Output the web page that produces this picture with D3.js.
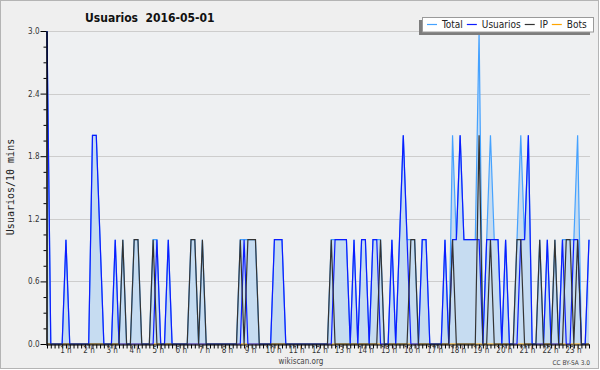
<!DOCTYPE html>
<html>
<head>
<meta charset="utf-8">
<script src="https://cdn.jsdelivr.net/npm/d3@7"></script>
<style>
	body { margin: 0; background: #ffffff; }
	text { font-family: "DejaVu Sans Condensed", "DejaVu Sans", sans-serif; font-stretch: condensed; }
</style>
</head>
<body>
<script>

// one value every 10 minutes, 00:00 -> 23:50
var usuarios = [
	3,0,0,0,0,1,0,0,0,0,0,0,
	2,2,1,0,0,0,1,0,0,0,0,0,
	0,0,0,0,0,1,0,0,1,0,0,0,
	0,0,0,0,0,0,0,0,0,0,0,0,
	0,0,0,0,1,0,0,0,0,0,0,0,
	1,1,1,0,0,0,0,0,0,0,0,0,
	0,0,0,0,1,1,1,1,0,1,0,1,
	1,0,1,1,0,0,0,1,0,1,2,1,
	0,0,0,1,1,0,0,0,0,1,0,1,
	1,2,1,1,1,1,1,0,1,1,1,1,
	0,1,0,0,0,1,1,2,0,0,0,0,
	1,0,0,0,1,0,0,1,1,0,0,1
]

var ip = [
	0,0,0,0,0,0,0,0,0,0,0,0,
	0,0,0,0,0,0,0,0,1,0,0,1,
	1,0,0,0,1,0,0,0,0,0,0,0,
	0,0,1,1,0,1,0,0,0,0,0,0,
	0,0,0,1,0,1,1,1,0,0,0,0,
	0,0,0,0,0,0,0,0,0,0,0,0,
	0,0,0,1,0,0,0,0,0,0,0,0,
	0,0,0,0,1,0,0,0,0,0,0,0,
	1,1,0,0,0,0,0,0,0,0,0,1,
	0,0,0,0,0,0,2,0,0,1,0,0,
	0,0,0,0,1,1,0,0,0,0,1,0,
	0,0,1,0,0,1,1,0,1,0,0,0
]

var total = [
	3,0,0,0,0,1,0,0,0,0,0,0,
	2,2,1,0,0,0,1,0,1,0,0,1,
	1,0,0,0,1,1,0,0,1,0,0,0,
	0,0,1,1,0,1,0,0,0,0,0,0,
	0,0,0,1,1,1,1,1,0,0,0,0,
	1,1,1,0,0,0,0,0,0,0,0,0,
	0,0,0,1,1,1,1,1,0,1,0,1,
	1,0,1,1,1,0,0,1,0,1,2,1,
	1,1,0,1,1,0,0,0,0,1,0,2,
	1,2,1,1,1,1,3,0,1,2,1,1,
	0,1,0,0,1,2,1,2,0,0,1,0,
	1,0,1,0,1,1,1,1,2,0,0,1
]

var bots = [
	0,0,0,0,0,0,0,0,0,0,0,0,
	0,0,0,0,0,0,0,0,0,0,0,0,
	0,0,0,0,0,0,0,0,0,0,0,0,
	0,0,0,0,0,0,0,0,0,0,0,0,
	0,0,0,0,0,0,0,0,0,0,0,0,
	0,0,0,0,0,0,0,0,0,0,0,0,
	0,0,0,0,0,0,0,0,0,0,0,0,
	0,0,0,0,0,0,0,0,0,0,0,0,
	0,0,0,0,0,0,0,0,0,0,0,0,
	0,0,0,0,0,0,0,0,0,0,0,0,
	0,0,0,0,0,0,0,0,0,0,0,0,
	0,0,0,0,0,0,0,0,0,0,0,0
]

var hour_labels = ["1 h","2 h","3 h","4 h","5 h","6 h","7 h","8 h","9 h","10 h","11 h","12 h",
	"13 h","14 h","15 h","16 h","17 h","18 h","19 h","20 h","21 h","22 h","23 h"]
var y_labels = [0, 0.6, 1.2, 1.8, 2.4, 3.0]
var y_minor = [0.15, 0.3, 0.45, 0.75, 0.9, 1.05, 1.35, 1.5, 1.65, 1.95, 2.1, 2.25, 2.55, 2.7, 2.85]

var series = [
	{name: "Total", values: total, color: "#45a2ff"},
	{name: "Usuarios", values: usuarios, color: "#0c1cff"},
	{name: "IP", values: ip, color: "#333333"},
	{name: "Bots", values: bots, color: "#ffa500"}
]

var canvas = d3.select("body")
	.append("svg")
	.attr("width", 600)
	.attr("height", 370)

canvas.append("rect")
	.attr("x", 0.5).attr("y", 0.5)
	.attr("width", 598).attr("height", 368)
	.attr("fill", "#efefef")
	.attr("stroke", "#b4b4b4")

var x = d3.scaleLinear().domain([0, 143]).range([47, 589])
var y = d3.scaleLinear().domain([0, 3]).range([344, 31])
// hour labels sit a bit wider apart than the 10 min points
var x_label = d3.scaleLinear().domain([0, 24]).range([42.9, 596.6])

canvas.append("rect")
	.attr("x", 47).attr("y", 31)
	.attr("width", 543).attr("height", 313)
	.attr("fill", "#eef0f2")

canvas.selectAll(".grid")
	.data(y_labels.slice(1))
	.enter().append("line")
	.attr("x1", 47).attr("x2", 590)
	.attr("y1", function(d){ return Math.round(y(d)) + 0.5 })
	.attr("y2", function(d){ return Math.round(y(d)) + 0.5 })
	.attr("stroke", "#cdcdcd")

var area = d3.area()
	.x(function(d, i){ return x(i) })
	.y0(y(0))
	.y1(function(d){ return y(d) })

var line = d3.line()
	.x(function(d, i){ return x(i) })
	.y(function(d){ return y(d) })

canvas.append("path")
	.attr("d", area(total))
	.attr("fill", "#c6dcf1")

// bots first so the axis hides it along 0
canvas.append("path").attr("d", line(bots)).attr("fill", "none").attr("stroke", series[3].color).attr("stroke-width", 1.2)
canvas.append("path").attr("d", line(total)).attr("fill", "none").attr("stroke", series[0].color).attr("stroke-width", 1.2)
canvas.append("path").attr("d", line(usuarios)).attr("fill", "none").attr("stroke", series[1].color).attr("stroke-width", 1.2)
canvas.append("path").attr("d", line(ip)).attr("fill", "none").attr("stroke", series[2].color).attr("stroke-width", 1.2)

// axes
var y_axis = canvas.append("g")
	.attr("transform", "translate(46.5,0)")
	.call(d3.axisLeft(y).tickValues(y_labels).tickSize(6).tickSizeOuter(0).tickPadding(1).tickFormat(d3.format(".1f")))
y_axis.selectAll("text").attr("font-size", 8).attr("fill", "#333").style("font-family", null)

canvas.append("g")
	.attr("transform", "translate(46.5,0)")
	.call(d3.axisLeft(y).tickValues(y_minor).tickSize(3).tickSizeOuter(0).tickFormat(""))

canvas.append("g")
	.attr("transform", "translate(0,344.5)")
	.call(d3.axisBottom(x).tickValues(d3.range(0, 144)).tickSize(4).tickSizeOuter(0).tickFormat(""))
	.select(".domain").attr("d", "M46,0.5H590")

canvas.selectAll("path.domain").attr("stroke", "#000")

canvas.selectAll(".hlabel")
	.data(hour_labels)
	.enter().append("text")
	.attr("x", function(d, i){ return x_label(i + 1) })
	.attr("y", 353)
	.attr("text-anchor", "middle")
	.attr("font-size", 8)
	.attr("fill", "#333")
	.text(function(d){ return d })

canvas.append("text")
	.attr("transform", "translate(14,187) rotate(-90)")
	.attr("text-anchor", "middle")
	.attr("font-size", 10)
	.attr("fill", "#222")
	.style("font-family", "'DejaVu Sans Mono', monospace")
	.text("Usuarios/10 mins")

canvas.append("text")
	.attr("x", 85).attr("y", 22)
	.attr("font-size", 12)
	.attr("font-weight", "bold")
	.attr("fill", "#111")
	.attr("xml:space", "preserve")
	.text("Usuarios  2016-05-01")

canvas.append("text")
	.attr("x", 301).attr("y", 364)
	.attr("text-anchor", "middle")
	.attr("font-size", 8)
	.attr("fill", "#444")
	.text("wikiscan.org")

canvas.append("text")
	.attr("x", 590).attr("y", 365)
	.attr("text-anchor", "end")
	.attr("font-size", 6.5)
	.attr("fill", "#444")
	.text("CC BY-SA 3.0")

// legend
canvas.append("rect")
	.attr("x", 419).attr("y", 20)
	.attr("width", 171).attr("height", 15)
	.attr("fill", "#7d7d7d")
canvas.append("rect")
	.attr("x", 422.5).attr("y", 17.5)
	.attr("width", 171).attr("height", 14.5)
	.attr("fill", "#ffffff")
	.attr("stroke", "#9a9a9a")

var leg_x = 427
series.forEach(function(s){
	canvas.append("line")
		.attr("x1", leg_x).attr("x2", leg_x + 10)
		.attr("y1", 24.5).attr("y2", 24.5)
		.attr("stroke", s.color)
		.attr("stroke-width", 1.2)
	var t = canvas.append("text")
		.attr("x", leg_x + 15).attr("y", 28)
		.attr("font-size", 10)
		.attr("fill", "#222")
		.text(s.name)
	leg_x = leg_x + 15 + t.node().getComputedTextLength() + 4
})

</script>
</body>
</html>
